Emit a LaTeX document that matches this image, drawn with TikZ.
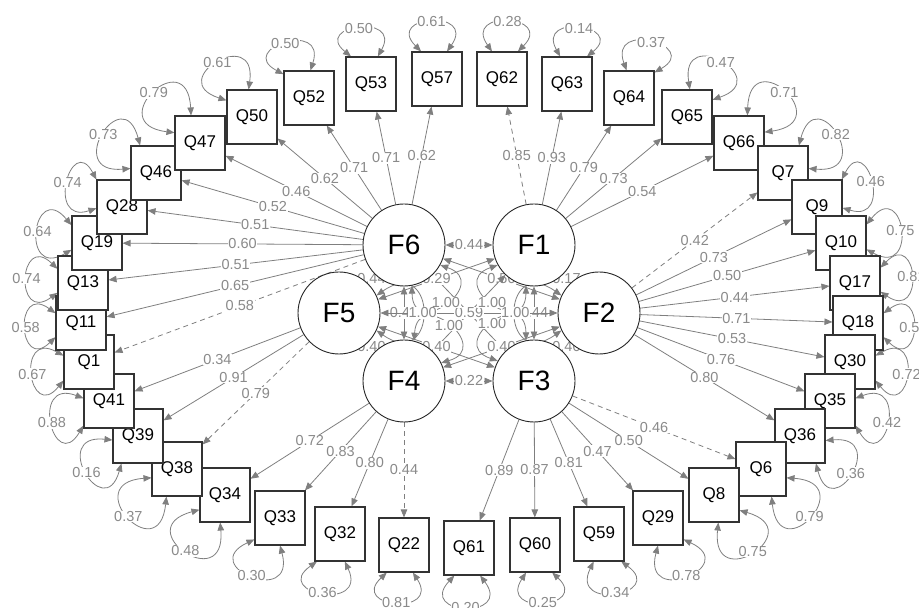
\documentclass[tikz,border=0pt]{standalone}
\usepackage{fontspec}
\setmainfont{Liberation Sans}
\usepackage{xcolor}
\usepackage{tikz}
\usetikzlibrary{arrows.meta}
\definecolor{pathgray}{HTML}{7F7F7F}
\definecolor{labelgray}{HTML}{8A8A8A}
\definecolor{boxline}{HTML}{333333}
\pgfdeclarelayer{back}
\pgfsetlayers{back,main}

\begin{document}
\begin{tikzpicture}[x=1pt,y=1pt,
  item/.style={draw=boxline,line width=1.1pt,fill=white,minimum width=50pt,minimum height=54pt,inner sep=0pt,font=\fontsize{17}{19}\selectfont},
  factor/.style={circle,draw=black!85,line width=0.9pt,fill=white,minimum size=82pt,inner sep=0pt,font=\fontsize{28}{30}\selectfont},
  load/.style={draw=pathgray,line width=0.8pt,-{Triangle[length=8pt,width=6.5pt]}},
  cov/.style={draw=pathgray,line width=0.8pt,{Triangle[length=8pt,width=6.5pt]}-{Triangle[length=8pt,width=6.5pt]}},
  resid/.style={cov},
  fixed/.style={dash pattern=on 5pt off 4pt},
  lab/.style={fill=white,inner sep=0.6pt,text=labelgray,font=\fontsize{14.5}{16}\selectfont}]
  \useasboundingbox (0,0) rectangle (919,608);

  \node[item] (q34) at (225,113) {Q34};
  \node[item] (q38) at (177,139) {Q38};
  \node[item] (q39) at (138,172) {Q39};
  \node[item] (q41) at (109,207) {Q41};
  \node[item] (q1) at (89,246) {Q1};
  \node[item] (q11) at (81,285) {Q11};
  \node[item] (q13) at (83,325) {Q13};
  \node[item] (q19) at (97,365) {Q19};
  \node[item] (q28) at (122,401) {Q28};
  \node[item] (q46) at (156,435) {Q46};
  \node[item] (q47) at (200,465) {Q47};
  \node[item] (q50) at (252,491) {Q50};
  \node[item] (q52) at (309,510) {Q52};
  \node[item] (q53) at (371,524) {Q53};
  \node[item] (q57) at (437,529) {Q57};

  \node[item] (q62) at (502,529) {Q62};
  \node[item] (q63) at (567,524) {Q63};
  \node[item] (q64) at (629,510) {Q64};
  \node[item] (q65) at (687,491) {Q65};
  \node[item] (q66) at (739,465) {Q66};
  \node[item] (q7) at (783,435) {Q7};
  \node[item] (q9) at (817,401) {Q9};
  \node[item] (q10) at (841,365) {Q10};
  \node[item] (q17) at (855,325) {Q17};
  \node[item] (q18) at (858,285) {Q18};
  \node[item] (q30) at (850,246) {Q30};
  \node[item] (q35) at (830,207) {Q35};
  \node[item] (q36) at (800,172) {Q36};
  \node[item] (q6) at (761,139) {Q6};
  \node[item] (q8) at (714,113) {Q8};

  \node[item] (q33) at (280,90) {Q33};
  \node[item] (q32) at (340,74) {Q32};
  \node[item] (q22) at (404,63) {Q22};
  \node[item] (q61) at (469,60) {Q61};
  \node[item] (q60) at (535,63) {Q60};
  \node[item] (q59) at (599,74) {Q59};
  \node[item] (q29) at (658,90) {Q29};

  \node[factor] (f6) at (404,363) {F6};
  \node[factor] (f1) at (534,363) {F1};
  \node[factor] (f5) at (339,295) {F5};
  \node[factor] (f2) at (599,295) {F2};
  \node[factor] (f4) at (404,227) {F4};
  \node[factor] (f3) at (534,227) {F3};

  \begin{pgfonlayer}{back}
  \draw[load] (f6) -- node[lab]{0.62} (q57);
  \draw[load] (f6) -- node[lab]{0.71} (q53);
  \draw[load] (f6) -- node[lab]{0.71} (q52);
  \draw[load] (f6) -- node[lab]{0.62} (q50);
  \draw[load] (f6) -- node[lab]{0.46} (q47);
  \draw[load] (f6) -- node[lab]{0.52} (q46);
  \draw[load] (f6) -- node[lab]{0.51} (q28);
  \draw[load] (f6) -- node[lab]{0.60} (q19);
  \draw[load] (f6) -- node[lab]{0.51} (q13);
  \draw[load] (f6) -- node[lab]{0.65} (q11);
  \draw[load,fixed] (f6) -- node[lab]{0.58} (q1);
  \draw[load] (f5) -- node[lab]{0.34} (q41);
  \draw[load] (f5) -- node[lab]{0.91} (q39);
  \draw[load,fixed] (f5) -- node[lab]{0.79} (q38);
  \draw[load] (f4) -- node[lab]{0.72} (q34);
  \draw[load] (f4) -- node[lab]{0.83} (q33);
  \draw[load] (f4) -- node[lab]{0.80} (q32);
  \draw[load,fixed] (f4) -- node[lab]{0.44} (q22);
  \draw[load] (f3) -- node[lab]{0.89} (q61);
  \draw[load] (f3) -- node[lab]{0.87} (q60);
  \draw[load] (f3) -- node[lab]{0.81} (q59);
  \draw[load] (f3) -- node[lab]{0.47} (q29);
  \draw[load] (f3) -- node[lab]{0.50} (q8);
  \draw[load,fixed] (f3) -- node[lab]{0.46} (q6);
  \draw[load] (f2) -- node[lab]{0.80} (q36);
  \draw[load] (f2) -- node[lab]{0.76} (q35);
  \draw[load] (f2) -- node[lab]{0.53} (q30);
  \draw[load] (f2) -- node[lab]{0.71} (q18);
  \draw[load] (f2) -- node[lab]{0.44} (q17);
  \draw[load] (f2) -- node[lab]{0.50} (q10);
  \draw[load] (f2) -- node[lab]{0.73} (q9);
  \draw[load,fixed] (f2) -- node[lab]{0.42} (q7);
  \draw[load] (f1) -- node[lab]{0.54} (q66);
  \draw[load] (f1) -- node[lab]{0.73} (q65);
  \draw[load] (f1) -- node[lab]{0.79} (q64);
  \draw[load] (f1) -- node[lab]{0.93} (q63);
  \draw[load,fixed] (f1) -- node[lab]{0.85} (q62);

  \draw[resid] (q57.120) .. controls +(135:52) and +(55:52) .. node[lab]{0.61} (q57.70);
  \draw[resid] (q53.126) .. controls +(141:50) and +(61:50) .. node[lab]{0.50} (q53.76);
  \draw[resid] (q52.137) .. controls +(152:54) and +(72:54) .. node[lab]{0.50} (q52.87);
  \draw[resid] (q50.147) .. controls +(162:66) and +(82:66) .. node[lab]{0.61} (q50.97);
  \draw[resid] (q47.158) .. controls +(173:74) and +(93:74) .. node[lab]{0.79} (q47.108);
  \draw[resid] (q46.170) .. controls +(185:68) and +(105:68) .. node[lab]{0.73} (q46.120);
  \draw[resid] (q28.183) .. controls +(198:54) and +(118:54) .. node[lab]{0.74} (q28.133);
  \draw[resid] (q19.195) .. controls +(210:60) and +(130:60) .. node[lab]{0.64} (q19.145);
  \draw[resid] (q13.201) .. controls +(216:54) and +(136:54) .. node[lab]{0.74} (q13.151);
  \draw[resid] (q11.209) .. controls +(224:52) and +(144:52) .. node[lab]{0.58} (q11.159);
  \draw[resid] (q1.216) .. controls +(231:55) and +(151:55) .. node[lab]{0.67} (q1.166);
  \draw[resid] (q41.224) .. controls +(239:58) and +(159:58) .. node[lab]{0.88} (q41.174);
  \draw[resid] (q39.239) .. controls +(254:64) and +(174:64) .. node[lab]{0.16} (q39.189);
  \draw[resid] (q38.249) .. controls +(264:74) and +(184:74) .. node[lab]{0.37} (q38.199);
  \draw[resid] (q34.260) .. controls +(275:74) and +(195:74) .. node[lab]{0.48} (q34.210);
  \draw[resid] (q33.270) .. controls +(285:64) and +(205:64) .. node[lab]{0.30} (q33.220);
  \draw[resid] (q32.280) .. controls +(295:56) and +(215:56) .. node[lab]{0.36} (q32.230);
  \draw[resid] (q22.288) .. controls +(303:52) and +(223:52) .. node[lab]{0.81} (q22.238);
  \draw[resid] (q61.292) .. controls +(307:55) and +(227:55) .. node[lab]{0.20} (q61.242);
  \draw[resid] (q60.302) .. controls +(317:52) and +(237:52) .. node[lab]{0.25} (q60.252);
  \draw[resid] (q59.309) .. controls +(324:56) and +(244:56) .. node[lab]{0.34} (q59.259);
  \draw[resid] (q29.320) .. controls +(335:64) and +(255:64) .. node[lab]{0.78} (q29.270);
  \draw[resid] (q8.329) .. controls +(344:74) and +(264:74) .. node[lab]{0.75} (q8.279);
  \draw[resid] (q6.341) .. controls +(356:74) and +(276:74) .. node[lab]{0.79} (q6.291);
  \draw[resid] (q36.350) .. controls +(365:64) and +(285:64) .. node[lab]{0.36} (q36.300);
  \draw[resid] (q35.6) .. controls +(21:58) and +(301:58) .. node[lab]{0.42} (q35.316);
  \draw[resid] (q30.14) .. controls +(29:55) and +(309:55) .. node[lab]{0.72} (q30.324);
  \draw[resid] (q18.21) .. controls +(36:52) and +(316:52) .. node[lab]{0.50} (q18.331);
  \draw[resid] (q17.31) .. controls +(46:54) and +(-34:54) .. node[lab]{0.81} (q17.341);
  \draw[resid] (q10.36) .. controls +(51:60) and +(-29:60) .. node[lab]{0.75} (q10.346);
  \draw[resid] (q9.48) .. controls +(63:54) and +(-17:54) .. node[lab]{0.46} (q9.358);
  \draw[resid] (q7.60) .. controls +(75:68) and +(-5:68) .. node[lab]{0.82} (q7.10);
  \draw[resid] (q66.73) .. controls +(88:74) and +(8:74) .. node[lab]{0.71} (q66.23);
  \draw[resid] (q65.84) .. controls +(99:66) and +(19:66) .. node[lab]{0.47} (q65.34);
  \draw[resid] (q64.95) .. controls +(110:54) and +(30:54) .. node[lab]{0.37} (q64.45);
  \draw[resid] (q63.104) .. controls +(119:50) and +(39:50) .. node[lab]{0.14} (q63.54);
  \draw[resid] (q62.110) .. controls +(125:52) and +(45:52) .. node[lab]{0.28} (q62.60);

  \draw[cov] (f6) -- node[lab]{0.44} (f1);
  \draw[cov] (f6) -- node[lab]{0.44} (f5);
  \draw[cov] (f6) -- node[lab]{0.43} (f4);
  \draw[cov] (f6) -- node[lab]{0.50} (f2);
  \draw[cov] (f6) -- (f3);
  \draw[cov] (f1) -- node[lab]{0.17} (f2);
  \draw[cov] (f1) -- node[lab]{0.44} (f3);
  \draw[cov] (f1) -- node[lab]{0.29} (f5);
  \draw[cov] (f1) -- (f4);
  \draw[cov] (f5) -- node[lab]{0.59} (f2);
  \draw[cov] (f5) -- node[lab]{0.40} (f4);
  \draw[cov] (f5) -- node[lab]{0.40} (f3);
  \draw[cov] (f4) -- node[lab]{0.22} (f3);
  \draw[cov] (f4) -- node[lab]{0.40} (f2);
  \draw[cov] (f3) -- node[lab]{0.40} (f2);

  \draw[resid] (f6.331) .. controls +(341:55) and +(271:55) .. node[lab]{1.00} (f6.281);
  \draw[resid] (f4.76) .. controls +(86:55) and +(16:55) .. node[lab]{1.00} (f4.26);
  \draw[resid] (f5.25) .. controls +(35:75) and +(-35:75) .. node[lab]{1.00} (f5.335);
  \draw[resid] (f1.259) .. controls +(269:55) and +(199:55) .. node[lab]{1.00} (f1.209);
  \draw[resid] (f3.151) .. controls +(161:55) and +(91:55) .. node[lab]{1.00} (f3.101);
  \draw[resid] (f2.205) .. controls +(215:75) and +(145:75) .. node[lab]{1.00} (f2.155);
  \end{pgfonlayer}
\end{tikzpicture}
\end{document}
